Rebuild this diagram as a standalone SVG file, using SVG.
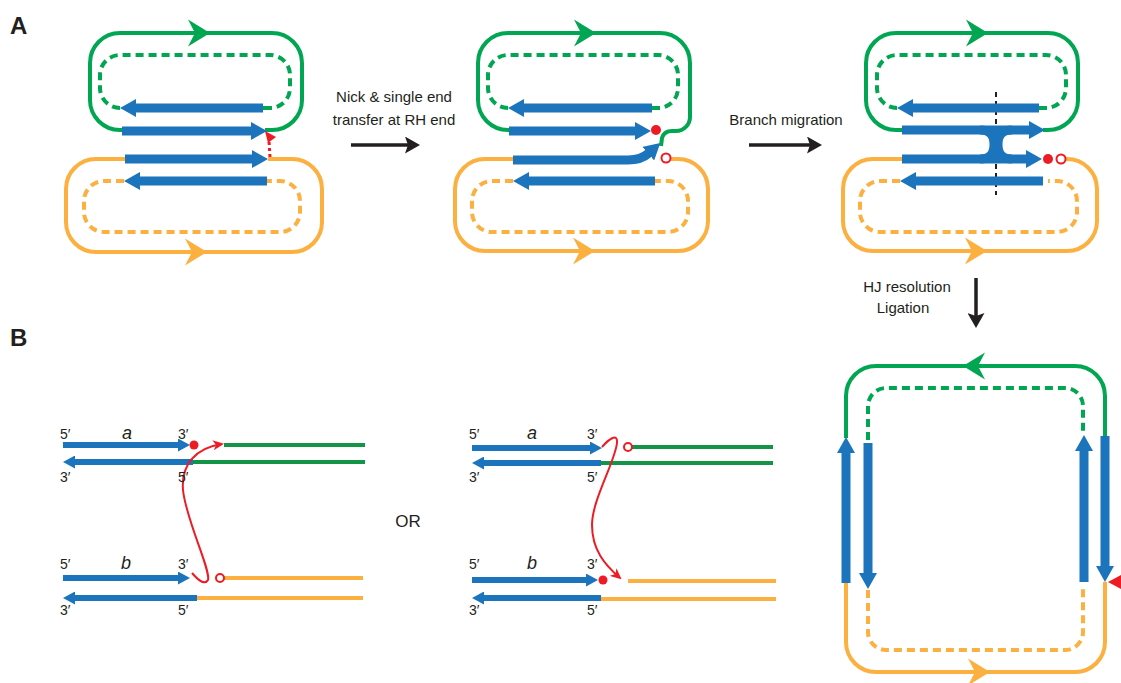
<svg xmlns="http://www.w3.org/2000/svg" xmlns:xlink="http://www.w3.org/1999/xlink" width="1121" height="683" viewBox="0 0 1121 683">
<style>
.g{fill:none;stroke:#00A651;stroke-width:4}
.gd{fill:none;stroke:#00A651;stroke-width:4;stroke-dasharray:8 5}
.o{fill:none;stroke:#FBB040;stroke-width:4}
.od{fill:none;stroke:#FBB040;stroke-width:4;stroke-dasharray:8 5}
.gl{fill:none;stroke:#139447;stroke-width:4}
.ol{fill:none;stroke:#FBB040;stroke-width:4}
.b{fill:none;stroke:#1C75BC;stroke-width:9;marker-end:url(#bh)}
.bn{fill:none;stroke:#1C75BC;stroke-width:9}
.bs{fill:none;stroke:#1C75BC;stroke-width:6;marker-end:url(#bsh)}
.k{fill:none;stroke:#231F20;stroke-width:3.5;marker-end:url(#kh)}
.r{fill:none;stroke:#ED1C24;stroke-width:2;marker-end:url(#rh)}
.rd{fill:#ED1C24}
.ro{fill:#fff;stroke:#ED1C24;stroke-width:2}
.t{font-family:"Liberation Sans",Arial,sans-serif;font-size:15px;fill:#231F20}
.p{font-family:"Liberation Sans",Arial,sans-serif;font-size:14px;fill:#231F20}
.i{font-family:"Liberation Sans",Arial,sans-serif;font-size:18px;font-style:italic;fill:#231F20;text-anchor:middle}
.L{font-family:"Liberation Sans",Arial,sans-serif;font-size:24px;font-weight:bold;fill:#231F20}
</style>
<defs>
<marker id="bh" markerUnits="userSpaceOnUse" markerWidth="16" markerHeight="18" viewBox="0 0 16 18" refX="1" refY="9" orient="auto"><path d="M0,0 L16,9 L0,18 z" fill="#1C75BC"/></marker>
<marker id="bsh" markerUnits="userSpaceOnUse" markerWidth="12" markerHeight="13" viewBox="0 0 12 13" refX="1" refY="6.5" orient="auto"><path d="M0,0 L12,6.5 L0,13 z" fill="#1C75BC"/></marker>
<marker id="kh" markerUnits="userSpaceOnUse" markerWidth="15" markerHeight="17" viewBox="0 0 15 17" refX="3" refY="8.5" orient="auto"><path d="M0,0 L15,8.5 L0,17 L3,8.5 z" fill="#231F20"/></marker>
<marker id="rh" markerUnits="userSpaceOnUse" markerWidth="11" markerHeight="10" viewBox="0 0 11 10" refX="9" refY="5" orient="auto"><path d="M0,0 L11,5 L0,10 L3,5 z" fill="#ED1C24"/></marker>
<path id="ah" d="M-22,-13.5 L0,0 L-22,13.5 L-15,0 z"/>
</defs>

<text class="L" x="10" y="34">A</text>
<text class="L" x="10" y="346">B</text>

<g id="a1">
<path class="g" d="M122,130 H120 A30,30 0 0 1 90,100 V63 A30,30 0 0 1 120,33 H272 A30,30 0 0 1 302,63 V100 A30,30 0 0 1 272,130 H265"/>
<use xlink:href="#ah" href="#ah" transform="translate(210,33)" fill="#00A651"/>
<path class="gd" d="M120,108 A20,20 0 0 1 100,88 V75 A20,20 0 0 1 120,55 H270 A20,20 0 0 1 290,75 V88 A20,20 0 0 1 270,108"/>
<path class="g" d="M262,108 H272"/>
<path class="o" d="M125,159 H96 A30,30 0 0 0 66,189 V222 A30,30 0 0 0 96,252 H292 A30,30 0 0 0 322,222 V189 A30,30 0 0 0 292,159 H268"/>
<use xlink:href="#ah" href="#ah" transform="translate(207,252)" fill="#FBB040"/>
<path class="od" d="M124,181 H104 A20,20 0 0 0 84,201 V212 A20,20 0 0 0 104,232 H280 A20,20 0 0 0 300,212 V201 A20,20 0 0 0 280,181 H267"/>
<path class="b" d="M263,108 H135"/>
<path class="b" d="M122,131 H252"/>
<path class="b" d="M125,159 H253"/>
<path class="b" d="M267,181 H139"/>
<path d="M270,157 L269,141" fill="none" stroke="#ED1C24" stroke-width="3" stroke-dasharray="3 3"/>
<polygon class="rd" points="265,131 276,137 268,143"/>
</g>

<g id="a2">
<path class="g" d="M509,130 H508 A30,30 0 0 1 478,100 V63 A30,30 0 0 1 508,33 H660 A30,30 0 0 1 690,63 V117 A14,14 0 0 1 676,131 H672 Q664,131 662,138 L661,146"/>
<use xlink:href="#ah" href="#ah" transform="translate(596,33)" fill="#00A651"/>
<path class="gd" d="M508,108 A20,20 0 0 1 488,88 V75 A20,20 0 0 1 508,55 H658 A20,20 0 0 1 678,75 V88 A20,20 0 0 1 658,108"/>
<path class="g" d="M651,108 H660"/>
<path class="o" d="M513,159 H485 A30,30 0 0 0 455,189 V221 A30,30 0 0 0 485,251 H678 A30,30 0 0 0 708,221 V189 A30,30 0 0 0 678,159 H669"/>
<use xlink:href="#ah" href="#ah" transform="translate(595,251)" fill="#FBB040"/>
<path class="od" d="M513,181 H492 A20,20 0 0 0 472,201 V212 A20,20 0 0 0 492,232 H668 A20,20 0 0 0 688,212 V201 A20,20 0 0 0 668,181 H655"/>
<path class="b" d="M652,108 H523"/>
<path class="b" d="M509,131 H636"/>
<path class="b" d="M513,160 H628 Q641,160 649,153"/>
<path class="b" d="M655,181 H528"/>
<circle class="rd" cx="656" cy="130" r="5"/>
<circle class="ro" cx="666" cy="158" r="4.5"/>
</g>

<g id="a3">
<path class="g" d="M902,130 H896 A30,30 0 0 1 866,100 V63 A30,30 0 0 1 896,33 H1048 A30,30 0 0 1 1078,63 V100 A30,30 0 0 1 1048,130 H1043"/>
<use xlink:href="#ah" href="#ah" transform="translate(988,33)" fill="#00A651"/>
<path class="gd" d="M897,108 A20,20 0 0 1 877,88 V75 A20,20 0 0 1 897,55 H1046 A20,20 0 0 1 1066,75 V88 A20,20 0 0 1 1046,108"/>
<path class="g" d="M1038,108 H1047"/>
<path class="o" d="M902,159 H873 A30,30 0 0 0 843,189 V221 A30,30 0 0 0 873,251 H1067 A30,30 0 0 0 1097,221 V189 A30,30 0 0 0 1067,159 H1066"/>
<use xlink:href="#ah" href="#ah" transform="translate(987,251)" fill="#FBB040"/>
<path class="od" d="M900,181 H880 A20,20 0 0 0 860,201 V212 A20,20 0 0 0 880,232 H1057 A20,20 0 0 0 1077,212 V201 A20,20 0 0 0 1057,181 H1048"/>
<path d="M996,92 V195" fill="none" stroke="#231F20" stroke-width="2" stroke-dasharray="5 4"/>
<path class="b" d="M1039,108 H912"/>
<path class="b" d="M1043,181 H915"/>
<path class="b" d="M902,130 H1030"/>
<path class="b" d="M902,159 H1027"/>
<path class="bn" d="M980,130 Q994,130 994,144.5 Q994,159 980,159"/>
<path class="bn" d="M1012,130 Q998,130 998,144.5 Q998,159 1012,159"/>
<circle class="rd" cx="1048" cy="159" r="5"/>
<circle class="ro" cx="1061" cy="159" r="4.5"/>
</g>

<g id="a4">
<path class="g" d="M846,438 V396 A30,30 0 0 1 876,366 H1075 A30,30 0 0 1 1105,396 V436"/>
<use xlink:href="#ah" href="#ah" transform="translate(963,366) rotate(180)" fill="#00A651"/>
<path class="gd" d="M868,440 V406 A18,18 0 0 1 886,388 H1065 A18,18 0 0 1 1083,406 V435"/>
<path class="o" d="M846,583 V642 A30,30 0 0 0 876,672 H1075 A30,30 0 0 0 1105,642 V582"/>
<use xlink:href="#ah" href="#ah" transform="translate(990,672)" fill="#FBB040"/>
<path class="od" d="M868,590 V632 A18,18 0 0 0 886,650 H1065 A18,18 0 0 0 1083,632 V588"/>
<path class="b" d="M846,583 V452"/>
<path class="b" d="M868,443 V574"/>
<path class="b" d="M1084,582 V450"/>
<path class="b" d="M1105,436 V567"/>
<polygon class="rd" points="1108,582 1121,575 1121,589"/>
</g>

<g id="b1">
<path class="gl" d="M224,445 H365"/>
<path class="gl" d="M193,462 H365"/>
<path class="ol" d="M224,578 H363"/>
<path class="ol" d="M197,598 H363"/>
<path class="bs" d="M63,445 H179"/>
<path class="bs" d="M193,462 H74"/>
<path class="bs" d="M63,578 H179"/>
<path class="bs" d="M197,598 H74"/>
<circle class="rd" cx="194" cy="445" r="4.5"/>
<circle class="ro" cx="220" cy="578" r="4"/>
<path class="r" d="M192,573 Q204,587 208,580 C211,570 186,520 183,490 C181,465 195,448 222,444"/>
<text class="p" x="60" y="439">5′</text>
<text class="i" x="127" y="439">a</text>
<text class="p" x="178" y="439">3′</text>
<text class="p" x="60" y="482">3′</text>
<text class="p" x="178" y="482">5′</text>
<text class="p" x="60" y="569">5′</text>
<text class="i" x="126" y="569">b</text>
<text class="p" x="178" y="569">3′</text>
<text class="p" x="60" y="615">3′</text>
<text class="p" x="178" y="615">5′</text>
</g>

<text class="t" x="408" y="527" style="font-size:17px" text-anchor="middle">OR</text>

<g id="b2">
<path class="gl" d="M632,447 H773"/>
<path class="gl" d="M601,463 H773"/>
<path class="ol" d="M628,581 H776"/>
<path class="ol" d="M601,599 H776"/>
<path class="bs" d="M472,448 H591"/>
<path class="bs" d="M601,463 H483"/>
<path class="bs" d="M472,580 H587"/>
<path class="bs" d="M601,598 H483"/>
<circle class="ro" cx="628" cy="447" r="4"/>
<circle class="rd" cx="603" cy="580" r="4.5"/>
<path class="r" d="M602,447 C608,440 618,432 617,443 C615,462 592,500 592,525 C592,550 605,565 620,578"/>
<text class="p" x="469" y="439">5′</text>
<text class="i" x="532" y="439">a</text>
<text class="p" x="587" y="439">3′</text>
<text class="p" x="469" y="482">3′</text>
<text class="p" x="587" y="482">5′</text>
<text class="p" x="469" y="569">5′</text>
<text class="i" x="532" y="569">b</text>
<text class="p" x="587" y="569">3′</text>
<text class="p" x="469" y="615">3′</text>
<text class="p" x="587" y="615">5′</text>
</g>

<g id="connectors">
<path class="k" d="M351,145 H408"/>
<path class="k" d="M749,145 H810"/>
<path class="k" d="M976,278 V316"/>
</g>
<g id="labels">
<text class="t" x="394" y="102" text-anchor="middle">Nick &amp; single end</text>
<text class="t" x="394" y="125" text-anchor="middle">transfer at RH end</text>
<text class="t" x="786" y="125" text-anchor="middle">Branch migration</text>
<text class="t" x="907" y="292" text-anchor="middle">HJ resolution</text>
<text class="t" x="903" y="313" text-anchor="middle">Ligation</text>
</g>
</svg>
